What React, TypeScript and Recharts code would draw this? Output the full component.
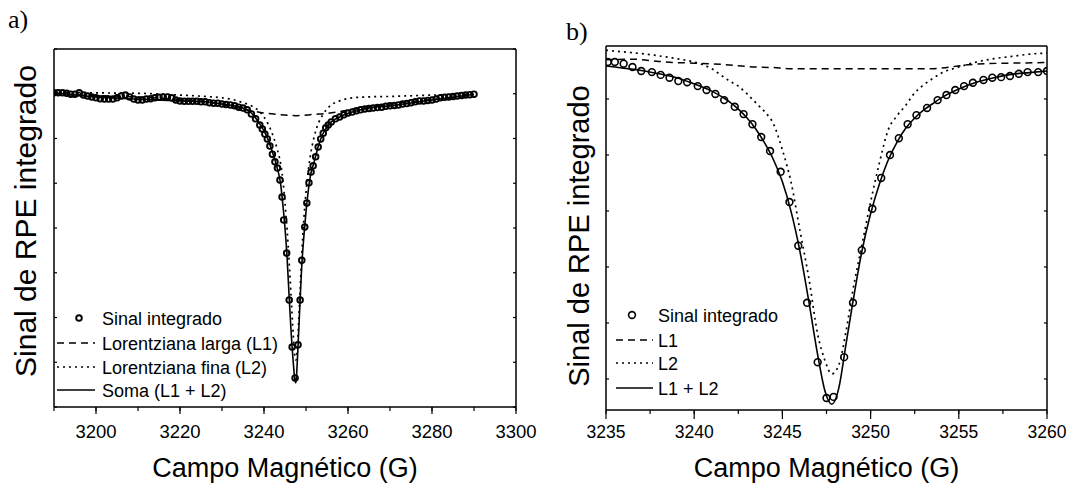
import React from 'react';
import { ComposedChart, Line, Scatter, XAxis, YAxis, Legend } from 'recharts';

// ---------- painel a) : espectro completo ----------
const aCampo = [
  3190, 3191, 3192, 3193, 3194, 3195, 3196, 3197, 3198, 3199,
  3200, 3201, 3202, 3203, 3204, 3205, 3206, 3207, 3208, 3209,
  3210, 3211, 3212, 3213, 3214, 3215, 3216, 3217, 3218, 3219,
  3220, 3221, 3222, 3223, 3224, 3225, 3226, 3227, 3228, 3229,
  3230, 3231, 3232, 3233, 3234, 3235, 3236, 3237, 3238, 3239,
  3239.6, 3240.2, 3240.8, 3241.4, 3242.0, 3242.6, 3243.2, 3243.8, 3244.3, 3244.7,
  3245.4, 3246.0, 3246.7, 3247.4, 3248.1, 3248.6, 3249.0, 3249.7, 3250.2, 3250.7,
  3251.2, 3251.7, 3252.3, 3252.9, 3253.5, 3254.1, 3254.7, 3255.3,
  3256, 3257, 3258, 3259, 3260, 3261, 3262, 3263, 3264, 3265,
  3266, 3267, 3268, 3269, 3270, 3271, 3272, 3273, 3274, 3275,
  3276, 3277, 3278, 3279, 3280, 3281, 3282, 3283, 3284, 3285,
  3286, 3287, 3288, 3289, 3290,
];
const aSinal = [
  7.02, 7.02, 7.02, 7.01, 6.99, 6.99, 7.02, 6.97, 6.95, 6.93,
  6.91, 6.89, 6.88, 6.88, 6.88, 6.91, 6.95, 6.97, 6.93, 6.88,
  6.86, 6.86, 6.88, 6.89, 6.91, 6.92, 6.93, 6.93, 6.91, 6.86,
  6.84, 6.83, 6.83, 6.83, 6.83, 6.82, 6.82, 6.80, 6.79, 6.79,
  6.77, 6.76, 6.75, 6.73, 6.70, 6.68, 6.64, 6.55, 6.44, 6.30,
  6.21, 6.10, 5.99, 5.83, 5.65, 5.48, 5.34, 5.07, 4.69, 4.18,
  3.44, 2.39, 1.34, 0.65, 1.39, 2.39, 3.28, 4.02, 4.56, 5.01,
  5.25, 5.39, 5.59, 5.81, 5.99, 6.12, 6.24, 6.30,
  6.37, 6.44, 6.48, 6.53, 6.57, 6.59, 6.62, 6.64, 6.66, 6.67,
  6.68, 6.69, 6.70, 6.72, 6.73, 6.74, 6.75, 6.77, 6.78, 6.80,
  6.82, 6.84, 6.84, 6.85, 6.86, 6.88, 6.91, 6.92, 6.93, 6.94,
  6.95, 6.96, 6.97, 6.98, 6.99,
];
const aAjusteCampo = [
  3190, 3200, 3210, 3220, 3226, 3230, 3233, 3235, 3237, 3238.5,
  3240, 3241, 3242, 3243, 3244, 3244.5, 3245, 3245.5, 3246, 3246.5,
  3247, 3247.35, 3247.6, 3247.9, 3248.2, 3248.6, 3249, 3249.5, 3250, 3250.5,
  3251, 3252, 3253, 3254, 3255, 3256, 3258, 3261, 3265, 3270,
  3280, 3290,
];
const aSoma = [
  7.02, 6.93, 6.88, 6.84, 6.82, 6.77, 6.73, 6.68, 6.57, 6.39,
  6.17, 5.97, 5.70, 5.39, 4.96, 4.51, 4.00, 3.33, 2.44, 1.61,
  0.96, 0.60, 0.54, 0.96, 1.56, 2.39, 3.17, 3.82, 4.36, 4.80,
  5.14, 5.50, 5.85, 6.10, 6.26, 6.37, 6.48, 6.59, 6.68, 6.73,
  6.86, 6.99,
];
const aL2 = [
  7.04, 7.02, 7.01, 6.97, 6.94, 6.91, 6.86, 6.80, 6.73, 6.64,
  6.48, 6.32, 6.10, 5.81, 5.41, 5.07, 4.56, 3.96, 3.22, 2.39,
  1.56, 1.14, 1.05, 1.27, 1.81, 2.61, 3.42, 4.22, 4.80, 5.25,
  5.59, 6.06, 6.35, 6.53, 6.66, 6.75, 6.84, 6.91, 6.93, 6.94,
  6.97, 6.99,
];
const aL1Campo = [3190, 3200, 3210, 3220, 3226, 3230, 3233, 3235, 3237, 3240, 3243, 3247.7, 3252, 3255, 3258, 3261, 3265, 3270, 3280, 3290];
const aL1 = [6.98, 6.96, 6.93, 6.87, 6.82, 6.76, 6.70, 6.66, 6.62, 6.57, 6.54, 6.51, 6.54, 6.56, 6.60, 6.65, 6.70, 6.77, 6.87, 6.95];
const aTicksX = [3190, 3200, 3210, 3220, 3230, 3240, 3250, 3260, 3270, 3280, 3290, 3300];
const aRotulosX = [3200, 3220, 3240, 3260, 3280, 3300];
const aTicksY = [0, 1, 2, 3, 4, 5, 6, 7, 8];
const aLegenda = ['Sinal integrado', 'Lorentziana larga (L1)', 'Lorentziana fina (L2)', 'Soma (L1 + L2)'];

// ---------- painel b) : ampliação da linha ----------
const bCampo = [
  3235.1, 3235.5, 3236.0, 3236.5, 3237.0, 3237.6, 3238.1, 3238.6, 3239.1, 3239.6,
  3240.2, 3240.7, 3241.2, 3241.7, 3242.3, 3242.8, 3243.3, 3243.8, 3244.3, 3244.9,
  3245.4, 3245.9, 3246.4, 3247.0, 3247.5, 3247.9, 3248.5, 3249.0, 3249.5, 3250.1,
  3250.6, 3251.1, 3251.6, 3252.1, 3252.6, 3253.2, 3253.8, 3254.3, 3254.8, 3255.3,
  3255.8, 3256.4, 3256.9, 3257.4, 3257.9, 3258.4, 3258.9, 3259.5, 3260.0,
];
const bSinal = [
  6.66, 6.66, 6.63, 6.57, 6.50, 6.48, 6.43, 6.38, 6.32, 6.30,
  6.23, 6.16, 6.09, 5.98, 5.86, 5.73, 5.55, 5.32, 5.07, 4.70,
  4.16, 3.38, 2.36, 1.30, 0.66, 0.68, 1.39, 2.36, 3.30, 4.04,
  4.59, 5.00, 5.30, 5.55, 5.71, 5.84, 5.98, 6.07, 6.16, 6.23,
  6.29, 6.34, 6.38, 6.39, 6.41, 6.45, 6.48, 6.48, 6.50,
];
const bAjusteCampo = [
  3235, 3236, 3237, 3238, 3239, 3240, 3240.5, 3241, 3241.5, 3242,
  3242.5, 3243, 3243.5, 3244, 3244.5, 3245, 3245.5, 3246, 3246.5, 3247,
  3247.4, 3247.8, 3248.2, 3248.6, 3249, 3249.5, 3250, 3250.5, 3251, 3251.5,
  3252, 3252.5, 3253, 3253.5, 3254, 3255, 3256, 3257, 3258, 3259,
  3260,
];
const bSoma = [
  6.59, 6.55, 6.51, 6.45, 6.38, 6.27, 6.21, 6.14, 6.05, 5.95,
  5.82, 5.66, 5.46, 5.21, 4.91, 4.52, 3.98, 3.27, 2.38, 1.43,
  0.80, 0.55, 0.84, 1.61, 2.38, 3.27, 3.95, 4.48, 4.91, 5.23,
  5.48, 5.66, 5.80, 5.91, 6.02, 6.18, 6.30, 6.38, 6.44, 6.47,
  6.50,
];
const bL2 = [
  6.87, 6.84, 6.81, 6.77, 6.72, 6.66, 6.61, 6.54, 6.43, 6.32,
  6.23, 6.09, 5.93, 5.77, 5.55, 5.09, 4.50, 3.64, 2.80, 1.80,
  1.34, 1.09, 1.25, 1.84, 2.59, 3.38, 4.16, 4.86, 5.45, 5.70,
  5.89, 6.11, 6.25, 6.36, 6.46, 6.57, 6.66, 6.72, 6.76, 6.80,
  6.82,
];
const bL1Campo = [3235, 3236.5, 3238, 3239, 3240, 3241.5, 3243, 3244.5, 3245.5, 3253.5, 3254.5, 3255.5, 3256.5, 3258, 3260];
const bL1 = [6.70, 6.71, 6.67, 6.65, 6.64, 6.62, 6.58, 6.56, 6.54, 6.54, 6.57, 6.61, 6.63, 6.64, 6.65];
const bTicksX = [3235, 3237.5, 3240, 3242.5, 3245, 3247.5, 3250, 3252.5, 3255, 3257.5, 3260];
const bRotulosX = [3235, 3240, 3245, 3250, 3255, 3260];
const bTicksY = [1, 2, 3, 4, 5, 6];
const bLegenda = ['Sinal integrado', 'L1', 'L2', 'L1 + L2'];

const pts = (xs: number[], ys: number[]) => xs.map((g, i) => ({ g, v: ys[i] }));

const axisStyle = { stroke: '#000', strokeWidth: 1.5 };
const tickStyle = { stroke: '#000', strokeWidth: 1.2 };
const dashes = ['', '7 5', '2 4', ''];

// no labels on the frame axes, only the tick marks
const NoLabel = () => null;

const BottomTick = (props: any) => {
  const { x, y, payload, labels, majorLen, fontSize, textDy } = props;
  const v = payload.value;
  if (!labels.includes(v)) return null;
  const axisY = y - 6;
  return (
    <g>
      <line x1={x} x2={x} y1={axisY} y2={axisY + majorLen} stroke="#000" strokeWidth={1.2} />
      <text x={x} y={axisY + textDy} textAnchor="middle" fontSize={fontSize} fill="#000">{v}</text>
    </g>
  );
};

function LegendSvg({ names, w, h, rows, symX0, symX1, circX, textX, r, sw }: any) {
  return (
    <svg width={w} height={h} style={{ display: 'block', overflow: 'visible' }}>
      {names.map((n: string, i: number) => (
        <g key={n}>
          {i === 0 ? (
            <circle cx={circX} cy={rows[i]} r={r} fill="none" stroke="#000" strokeWidth={sw} />
          ) : (
            <line x1={symX0} x2={symX1} y1={rows[i]} y2={rows[i]} stroke="#000" strokeWidth={1.5} strokeDasharray={dashes[i]} />
          )}
          <text x={textX} y={rows[i] + 6.5} fontSize={18} fill="#000">{n}</text>
        </g>
      ))}
    </svg>
  );
}

function Panel({ c }: any) {
  const circle = (p: any) => <circle cx={p.cx} cy={p.cy} r={c.r} fill="none" stroke="#000" strokeWidth={c.sw} />;
  return (
    <ComposedChart width={c.width} height={485} margin={c.margin}>
      <XAxis
        xAxisId="x" type="number" dataKey="g" domain={c.xDomain} ticks={c.xTicks} interval={0}
        allowDataOverflow height={40} tickSize={4} tickMargin={2} axisLine={axisStyle} tickLine={tickStyle}
        tick={<BottomTick labels={c.xLabels} majorLen={c.majorLen} fontSize={c.tickFont} textDy={c.tickDy} />}
        label={(p: any) => (
          <text x={p.viewBox.x + p.viewBox.width / 2} y={p.viewBox.y + c.titleDy} textAnchor="middle" fontSize={27} fill="#000">
            Campo Magnético (G)
          </text>
        )}
      />
      <XAxis
        xAxisId="top" orientation="top" mirror type="number" domain={c.xDomain} ticks={c.xTicks} interval={0}
        allowDataOverflow height={1} tickSize={3} tick={<NoLabel />} axisLine={axisStyle} tickLine={tickStyle}
      />
      <YAxis
        yAxisId="y" type="number" dataKey="v" mirror domain={c.yDomain} ticks={c.yTicks} interval={0}
        allowDataOverflow width={1} tickSize={3} tick={<NoLabel />} axisLine={axisStyle} tickLine={tickStyle}
        label={(p: any) => (
          <text
            transform={`translate(${p.viewBox.x - c.yTitleDx}, ${p.viewBox.y + p.viewBox.height / 2 + c.yTitleDy}) rotate(-90)`}
            textAnchor="middle" fontSize={c.yTitleFont} fill="#000"
          >
            Sinal de RPE integrado
          </text>
        )}
      />
      <YAxis
        yAxisId="r" orientation="right" mirror type="number" domain={c.yDomain} ticks={c.yTicks} interval={0}
        allowDataOverflow width={1} tickSize={3} tick={<NoLabel />} axisLine={axisStyle} tickLine={tickStyle}
      />
      <Line xAxisId="x" yAxisId="y" name={c.legend[1]} data={c.l1} dataKey="v" type="monotone" stroke="#000" strokeWidth={1.5} strokeDasharray={dashes[1]} dot={false} isAnimationActive={false} />
      <Line xAxisId="x" yAxisId="y" name={c.legend[2]} data={c.l2} dataKey="v" type="monotone" stroke="#000" strokeWidth={1.7} strokeDasharray={dashes[2]} dot={false} isAnimationActive={false} />
      <Line xAxisId="x" yAxisId="y" name={c.legend[3]} data={c.soma} dataKey="v" type="monotone" stroke="#000" strokeWidth={1.6} dot={false} isAnimationActive={false} />
      <Scatter xAxisId="x" yAxisId="y" name={c.legend[0]} data={c.sinal} shape={circle} isAnimationActive={false} />
      <Legend
        layout="horizontal" verticalAlign="middle" align="center"
        wrapperStyle={{ left: c.legendBox.left, top: c.legendBox.top, width: c.legendBox.w, height: c.legendBox.h, lineHeight: 0 }}
        content={() => <LegendSvg names={c.legend} w={c.legendBox.w} h={c.legendBox.h} {...c.legendItems} r={c.r} sw={c.sw} />}
      />
    </ComposedChart>
  );
}

const painelA = {
  width: 540,
  margin: { top: 49, right: 24, bottom: 38, left: 54 },
  xDomain: [3190, 3300], xTicks: aTicksX, xLabels: aRotulosX,
  yDomain: [0, 8], yTicks: aTicksY,
  sinal: pts(aCampo, aSinal), soma: pts(aAjusteCampo, aSoma), l2: pts(aAjusteCampo, aL2), l1: pts(aL1Campo, aL1),
  legend: aLegenda, r: 2.8, sw: 1.9, majorLen: 7, tickFont: 18.5, tickDy: 31, titleDy: 70,
  yTitleDx: 18, yTitleDy: -7, yTitleFont: 30,
  legendBox: { left: 55, top: 304, w: 245, h: 98 },
  legendItems: { rows: [14, 39, 63, 86], symX0: 2, symX1: 40, circX: 24, textX: 47 },
};

const painelB = {
  width: 533,
  margin: { top: 46, right: 26, bottom: 35, left: 66 },
  xDomain: [3235, 3260], xTicks: bTicksX, xLabels: bRotulosX,
  yDomain: [0.446, 6.946], yTicks: bTicksY,
  sinal: pts(bCampo, bSinal), soma: pts(bAjusteCampo, bSoma), l2: pts(bAjusteCampo, bL2), l1: pts(bL1Campo, bL1),
  legend: bLegenda, r: 3.4, sw: 1.6, majorLen: 9, tickFont: 17.5, tickDy: 28, titleDy: 67,
  yTitleDx: 17, yTitleDy: 8, yTitleFont: 29,
  legendBox: { left: 72, top: 302, w: 200, h: 98 },
  legendItems: { rows: [13, 38, 61, 86], symX0: 4, symX1: 41, circX: 20, textX: 46 },
};

export default function App() {
  return (
    <div style={{ position: 'relative', width: 1073, height: 485, background: '#fff', fontFamily: '"Liberation Sans", Arial, sans-serif' }}>
      <style>{'body{margin:0}'}</style>
      <div style={{ position: 'absolute', left: 0, top: 0 }}>
        <Panel c={painelA} />
      </div>
      <div style={{ position: 'absolute', left: 540, top: 0 }}>
        <Panel c={painelB} />
      </div>
      <div style={{ position: 'absolute', left: 8, top: 7, fontFamily: '"Liberation Serif", serif', fontSize: 26, lineHeight: '26px' }}>a)</div>
      <div style={{ position: 'absolute', left: 566, top: 19, fontFamily: '"Liberation Serif", serif', fontSize: 26, lineHeight: '26px' }}>b)</div>
    </div>
  );
}
